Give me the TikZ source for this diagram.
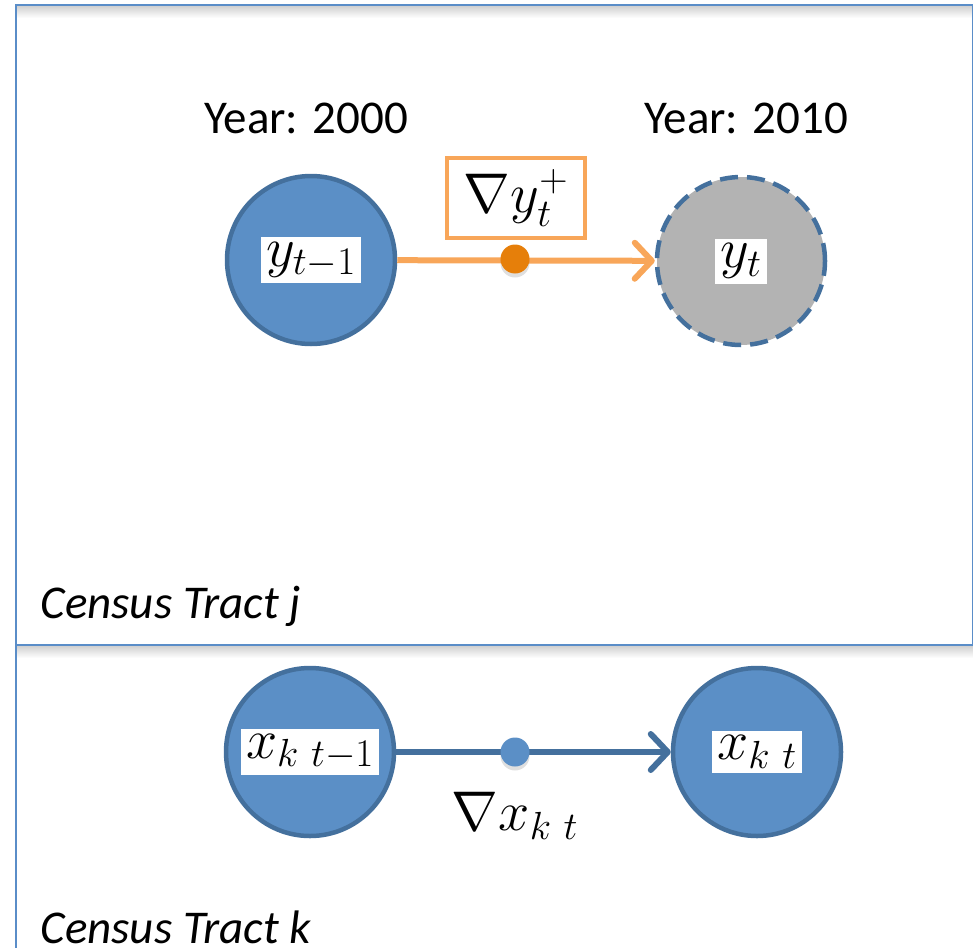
\RequirePackage{fix-cm}
\documentclass[tikz,border=0pt]{standalone}
\usepackage{fontspec}
\setmainfont{Carlito}
\usetikzlibrary{arrows.meta,shadows}
\definecolor{tractblue}{HTML}{5B8FC6}
\definecolor{rimblue}{HTML}{44709D}
\definecolor{frameblue}{HTML}{5A8DC8}
\definecolor{flowfirst}{HTML}{F8A659}
\definecolor{dotfirst}{HTML}{E67F0A}
\definecolor{pastgray}{HTML}{B3B3B3}
\begin{document}
\begin{tikzpicture}[
  x=1pt, y=-1pt,
  every node/.style={font=\fontsize{47}{56}\selectfont},
  mathsize/.style={font=\fontsize{56}{64}\selectfont},
  tract/.style={circle, draw=rimblue, line width=4.5pt, fill=tractblue, minimum size=168pt},
  future/.style={tract, fill=pastgray, dash pattern=on 18pt off 9pt},
  tag/.style={mathsize, fill=white, inner xsep=5pt, inner ysep=5pt},
  change/.style={mathsize, draw=flowfirst, line width=4pt, fill=white, minimum width=138pt, minimum height=80pt},
  flow/.style={line width=6pt, -{Straight Barb[round,length=17pt,width=36pt]}},
  knot/.style={circle, minimum size=29pt, inner sep=0pt, drop shadow={shadow xshift=0pt, shadow yshift=-4pt, opacity=0.25}},
  frame/.style={draw=frameblue, line width=2.5pt}
]
\useasboundingbox (0,0) rectangle (973,947);

% panels
\shade[top color=black!18, bottom color=white] (17,6) rectangle (973,18);
\shade[top color=black!18, bottom color=white] (17,646) rectangle (973,658);
\draw[frame] (16,5) rectangle (973,645);
\draw[frame] (16,645) -- (16,960);

% tract j
\node[anchor=base] (yra) at (306,133) {Year: 2000};
\node[anchor=base] (yrb) at (746,133) {Year: 2010};
\node[tract] (ya) at (311,260) {};
\node[future] (yb) at (741,261) {};
\node[tag] at (ya) {$y_{t-1}$};
\node[tag] at (yb) {$y_{t}$};
\draw[flow, flowfirst] (ya) -- (yb);
\node[knot, fill=dotfirst] (dy) at (515,259) {};
\node[change] (gy) at (516,198) {$\nabla y_t^{+}$};
\node[anchor=base west] (tj) at (37,618) {\itshape Census Tract j};

% tract k
\node[tract] (xa) at (310,752) {};
\node[tract] (xb) at (757,752) {};
\node[tag] at (xa) {$x_{k\ t-1}$};
\node[tag] at (xb) {$x_{k\ t}$};
\draw[flow, rimblue] (xa) -- (xb);
\node[knot, fill=tractblue] (dx) at (515,752) {};
\node[mathsize] (gx) at (515,816) {$\nabla x_{k\ t}$};
\node[anchor=base west] (tk) at (37,943) {\itshape Census Tract k};
\end{tikzpicture}
\end{document}
